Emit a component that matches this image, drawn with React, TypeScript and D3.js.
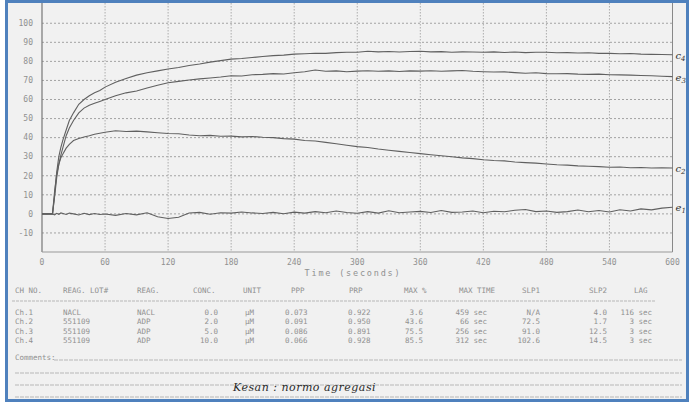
import * as d3 from 'd3';

// sample times (s) shared by all four channels
const times = [0, 5, 10, 12, 14, 16, 18, 20, 23, 26, 30, 35, 40, 45, 50, 55,
  60, 70, 80, 90, 100, 110, 120, 130, 140, 150, 160, 170, 180, 190, 200, 210, 220, 230, 240, 250,
  260, 270, 280, 290, 300, 310, 320, 330, 340, 350, 360, 370, 380, 390, 400, 410, 420, 430, 440, 450,
  460, 470, 480, 490, 500, 510, 520, 530, 540, 550, 560, 570, 580, 590, 600];

const ch1 = [0, 0, 0, -0.5, 0.3, -0.2, 0.5, 0.2, -0.3, 0.4, 0, -0.6, 0.3, -0.4, 0.2, -0.3,
  -0.1, -0.8, 0.2, -0.5, 0.6, -1.5, -2.4, -1.8, 0.5, 0.8, -0.2, 0.6, 0.4, 1, 0.5, 0.2, 0.8, 0.1, 0.9, 0.4,
  1.2, 0.6, 1.5, 0.7, 0.3, 1.2, 0.4, 1.6, 0.6, 1, 1.3, 0.7, 1.8, 0.8, 1, 1.5, 0.6, 1.4, 1.1, 1.9,
  2.3, 1.2, 1.5, 0.8, 1.2, 2, 1.1, 1.8, 1, 2.2, 1.5, 2.6, 2.1, 3, 3.5];

const ch2 = [0, 0, 0, 12, 21, 26, 29.5, 31.5, 34.5, 36.5, 38.5, 39.5, 40.3, 41, 41.8, 42.3,
  42.8, 43.6, 43.2, 43.4, 43, 42.6, 42.2, 42, 41.4, 41, 41.2, 40.7, 40.8, 40.4, 40.6, 40.2, 40, 39.5, 39.2, 38.5,
  38.2, 37.5, 36.8, 36, 35.3, 34.8, 34, 33.4, 32.8, 32.2, 31.6, 31, 30.5, 30, 29.4, 29, 28.4, 28, 27.8, 27.2,
  26.9, 26.6, 26.2, 25.8, 25.6, 25.2, 25, 24.8, 24.5, 24.6, 24.2, 24.3, 24.1, 24.2, 24.1];

const ch3 = [0, 0, 0, 9, 19, 26, 31, 35, 41, 45, 49, 53, 55.5, 57, 58, 59,
  60, 62, 63.5, 64.5, 66, 67.5, 68.8, 69.5, 70.2, 70.8, 71.3, 71.8, 72.5, 72.3, 73, 73.2, 73.6, 73.4, 74, 74.6,
  75.5, 74.8, 75, 74.6, 74.9, 75.1, 74.8, 75, 74.7, 75, 74.9, 75.1, 74.8, 75, 75.2, 74.8, 74.6, 74.4, 74.5, 74.1,
  73.8, 74, 73.6, 73.5, 73.6, 73.3, 73.2, 73.3, 73, 72.9, 72.8, 72.6, 72.5, 72.2, 72];

const ch4 = [0, 0, 0, 10, 22, 30, 35, 39, 44, 49, 53, 57.5, 60, 62, 63.5, 64.7,
  66.5, 69, 71, 72.8, 74, 75, 76, 76.8, 77.8, 78.6, 79.6, 80.4, 81.2, 81.5, 82, 82.6, 83, 83.3, 83.8, 84,
  84.3, 84.2, 84.6, 84.8, 84.8, 85.3, 85, 85.2, 84.9, 85.2, 85.3, 85, 85.1, 84.8, 85, 84.9, 84.8, 85, 84.7, 84.9,
  84.6, 84.8, 84.8, 84.5, 84.6, 84.4, 84.5, 84.2, 84.2, 84, 84.1, 83.8, 83.7, 83.6, 83.5];

const series = [ch1, ch2, ch3, ch4];
const curveTags = ['e1', 'c2', 'e3', 'c4'];

const xTicks = [0, 60, 120, 180, 240, 300, 360, 420, 480, 540, 600];
const yTicks = [-10, 0, 10, 20, 30, 40, 50, 60, 70, 80, 90, 100];

const tableHeader = ['CH NO.', 'REAG. LOT#', 'REAG.', 'CONC.', 'UNIT', 'PPP', 'PRP', 'MAX %', 'MAX TIME', 'SLP1', 'SLP2', 'LAG'];
const tableRows = [
  ['Ch.1', 'NACL', 'NACL', '0.0', 'µM', '0.073', '0.922', '3.6', '459 sec', 'N/A', '4.0', '116 sec'],
  ['Ch.2', '551109', 'ADP', '2.0', 'µM', '0.091', '0.950', '43.6', '66 sec', '72.5', '1.7', '3 sec'],
  ['Ch.3', '551109', 'ADP', '5.0', 'µM', '0.086', '0.891', '75.5', '256 sec', '91.0', '12.5', '3 sec'],
  ['Ch.4', '551109', 'ADP', '10.0', 'µM', '0.066', '0.928', '85.5', '312 sec', '102.6', '14.5', '3 sec'],
];
const comment = 'Kesan : normo agregasi';

// column anchors for header and for cells
const headX = [15, 63, 137, 193, 243, 291, 349, 404, 459, 522, 589, 634];
const cellX = [15, 63, 137, 218, 245, 285, 348, 423, 487, 540, 607, 652];
const cellEnd = [false, false, false, true, false, false, false, true, true, true, true, true];

const mono = '"DejaVu Sans Mono", monospace';
const ink = '#909090';

export default function App() {
  const width = 690;
  const height = 402;
  const x = d3.scaleLinear().domain([0, 600]).range([42, 672.5]);
  const y = d3.scaleLinear().domain([-20, 110]).range([252, 4.2]);

  const line = d3.line<number>()
    .x((_, i) => x(times[i]))
    .y(d => y(d));

  return (
    <div style={{ position: 'absolute', left: 0, top: 0 }}>
      <svg width={width} height={height} style={{ display: 'block', background: '#fff' }}>
        <rect x={6.5} y={1.5} width={681} height={399} fill="#f1f1f1" stroke="#4f81bd" strokeWidth={3} />

        {/* grid */}
        {yTicks.map(t => (
          <line key={'h' + t} x1={x(0)} x2={x(600)} y1={y(t)} y2={y(t)}
            stroke="#9a9a9a" strokeWidth={0.9} strokeDasharray="2,2" />
        ))}
        {xTicks.slice(1, -1).map(t => (
          <line key={'v' + t} x1={x(t)} x2={x(t)} y1={3} y2={y(-20)}
            stroke="#a5a5a5" strokeWidth={0.9} strokeDasharray="1.5,1.5" />
        ))}
        <line x1={x(0)} x2={x(0)} y1={3} y2={y(-20)} stroke="#777" strokeWidth={1.2} />
        <line x1={x(600)} x2={x(600)} y1={3} y2={y(-20)} stroke="#888" strokeWidth={1} />
        <line x1={x(0)} x2={x(600)} y1={y(-20)} y2={y(-20)} stroke="#999" strokeWidth={1.2} />

        {/* tick labels */}
        {yTicks.map(t => (
          <text key={'yl' + t} x={33} y={y(t)} dy="0.35em" textAnchor="end"
            fontFamily={mono} fontSize={8} fill={ink}>{t}</text>
        ))}
        {xTicks.map(t => (
          <text key={'xl' + t} x={x(t)} y={265} textAnchor="middle"
            fontFamily={mono} fontSize={8} fill={ink}>{t}</text>
        ))}
        <text x={353} y={276} textAnchor="middle" fontFamily={mono} fontSize={8.5}
          letterSpacing={1.8} fill={ink}>Time (seconds)</text>

        {/* curves */}
        {series.map((s, i) => (
          <path key={'c' + i} d={line(s) ?? ''} fill="none" stroke="#606060" strokeWidth={1.1} />
        ))}
        {series.map((s, i) => (
          <text key={'tag' + i} x={x(600) + 3} y={y(s[s.length - 1]) + 4}
            fontFamily='"DejaVu Serif", serif' fontStyle="italic" fontSize={10} fill="#333">
            {curveTags[i][0]}
            <tspan fontSize={7} dy={2}>{curveTags[i][1]}</tspan>
          </text>
        ))}

        {/* table */}
        {tableHeader.map((h, i) => (
          <text key={'th' + i} x={headX[i]} y={293} fontFamily={mono} fontSize={7.5} fill={ink}>{h}</text>
        ))}
        <line x1={12} x2={655} y1={301} y2={301} stroke="#aaa" strokeWidth={0.8} strokeDasharray="3,1" />
        {tableRows.map((r, j) => r.map((c, i) => (
          <text key={'td' + j + '-' + i} x={cellX[i]} y={315 + j * 9.3}
            textAnchor={cellEnd[i] ? 'end' : 'start'} fontFamily={mono} fontSize={7.5} fill={ink}>{c}</text>
        )))}

        {/* comments */}
        <text x={15} y={360} fontFamily={mono} fontSize={7.5} fill={ink}>Comments:</text>
        <line x1={54} x2={682} y1={360} y2={360} stroke="#aaa" strokeWidth={0.8} strokeDasharray="4,1" />
        <line x1={15} x2={682} y1={373} y2={373} stroke="#aaa" strokeWidth={0.8} strokeDasharray="4,1" />
        <line x1={15} x2={682} y1={385} y2={385} stroke="#aaa" strokeWidth={0.8} strokeDasharray="4,1" />
        <line x1={15} x2={682} y1={397} y2={397} stroke="#aaa" strokeWidth={0.8} strokeDasharray="4,1" />
        <text x={233} y={391} fontFamily='"DejaVu Serif", serif' fontStyle="italic" fontSize={11}
          fill="#2a2a2a" letterSpacing={0.5}>{comment}</text>
      </svg>
    </div>
  );
}
